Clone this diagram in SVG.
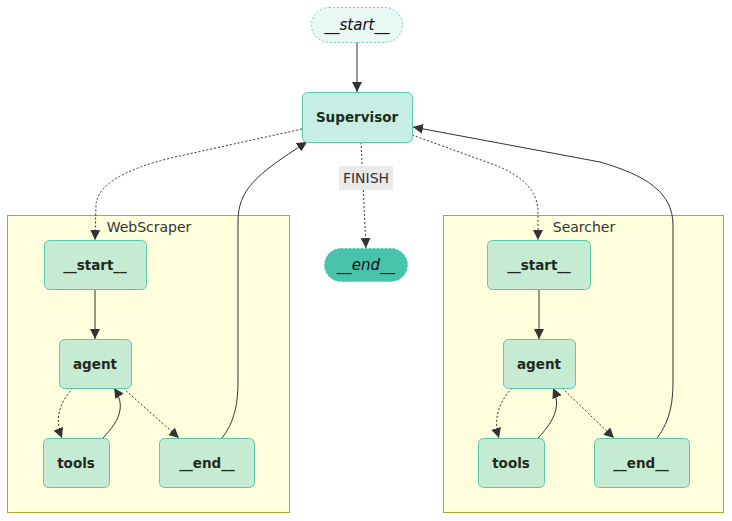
<svg xmlns="http://www.w3.org/2000/svg" width="732" height="521" viewBox="0 0 732 521">
<defs>
<style>
.cluster{fill:#ffffde;stroke:#aaaa33;stroke-width:1}
.clabel{font-family:"DejaVu Sans",Verdana,sans-serif;font-size:14px;fill:#333;text-anchor:middle;dominant-baseline:central}
.node{fill:#c5ebd2;stroke:#5cc9ad;stroke-width:1}
.sup{fill:#c6eee4;stroke:#5cc9ad;stroke-width:1}
.first{fill:#eaf8f5;stroke:#6fd3bc;stroke-width:1;stroke-dasharray:2 2}
.last{fill:#47c4ab;stroke:#5cc9ad;stroke-width:1;stroke-dasharray:2 2}
.lbl{font-family:"DejaVu Sans",Verdana,sans-serif;font-size:13.5px;font-weight:bold;fill:#1f2a1f;text-anchor:middle;dominant-baseline:central}
.ital{font-family:"DejaVu Sans",Verdana,sans-serif;font-size:15px;font-style:italic;fill:#111;text-anchor:middle;dominant-baseline:central}
.edge{fill:none;stroke:#333;stroke-width:1}
.dash{stroke-dasharray:2 2}
.elbl{font-family:"DejaVu Sans",Verdana,sans-serif;font-size:14px;fill:#333;text-anchor:middle;dominant-baseline:central}
</style>
<marker id="arr" viewBox="0 0 10 10" refX="10" refY="5" markerWidth="10" markerHeight="10" markerUnits="userSpaceOnUse" orient="auto">
<path d="M0,0 L10,5 L0,10 z" fill="#333"/>
</marker>
</defs>
<rect width="732" height="521" fill="#ffffff"/>
<g id="cluster-WebScraper">
<rect class="cluster" x="7.5" y="215.5" width="282" height="297"/>
<text class="clabel" x="149" y="227">WebScraper</text>
</g>
<g id="cluster-Searcher">
<rect class="cluster" x="443.5" y="215.5" width="280" height="297"/>
<text class="clabel" x="584" y="227">Searcher</text>
</g>
<g id="connectors">
<path class="edge" d="M357,42 L357,92" marker-end="url(#arr)"/>
<path class="edge dash" d="M361,142 L366,248" marker-end="url(#arr)"/>
<path class="edge dash" d="M302,129 L175,157 Q98,175 96,205 L95,240" marker-end="url(#arr)"/>
<path class="edge" d="M222,438 C236,420 238,400 238,380 L238,222 C238,190 255,175 307,142" marker-end="url(#arr)"/>
<path class="edge dash" d="M412,135 L495,165 Q538,182 538,212 L538,240" marker-end="url(#arr)"/>
<path class="edge" d="M657,438 C671,420 673,400 673,380 L673,225 C673,192 645,175 600,162 L413,127" marker-end="url(#arr)"/>
<path class="edge" d="M95,289 L95,339" marker-end="url(#arr)"/>
<path class="edge dash" d="M73,388 C60,402 54,418 62,438" marker-end="url(#arr)"/>
<path class="edge" d="M103,438 C120,420 126,406 114,388" marker-end="url(#arr)"/>
<path class="edge dash" d="M123,388 L179,438" marker-end="url(#arr)"/>
<path class="edge" d="M539,289 L539,339" marker-end="url(#arr)"/>
<path class="edge dash" d="M512,388 C499,402 493,418 499,438" marker-end="url(#arr)"/>
<path class="edge" d="M538,438 C555,420 561,406 553,388" marker-end="url(#arr)"/>
<path class="edge dash" d="M562,388 L614,438" marker-end="url(#arr)"/>
<g id="edge-label-finish">
<rect x="339" y="166" width="54" height="24" fill="#e8e8e8" opacity="0.9"/>
<text class="elbl" x="366" y="178">FINISH</text>
</g>
</g>
<g id="node-start">
<rect class="first" x="311.5" y="7.5" width="91" height="35" rx="17.5"/>
<text class="ital" x="357" y="25">__start__</text>
</g>
<g id="node-Supervisor">
<rect class="sup" x="302.5" y="92.5" width="110" height="50" rx="5"/>
<text class="lbl" x="357" y="117">Supervisor</text>
</g>
<g id="node-end">
<rect class="last" x="324.5" y="248.5" width="83" height="33" rx="16.5"/>
<text class="ital" x="366" y="265">__end__</text>
</g>
<g id="node-WebScraper-start">
<rect class="node" x="44.5" y="240.5" width="102" height="49" rx="5"/>
<text class="lbl" x="95" y="265">__start__</text>
</g>
<g id="node-WebScraper-agent">
<rect class="node" x="59.5" y="339.5" width="72" height="49" rx="5"/>
<text class="lbl" x="95" y="364">agent</text>
</g>
<g id="node-WebScraper-tools">
<rect class="node" x="43.5" y="438.5" width="66" height="49" rx="5"/>
<text class="lbl" x="76" y="463">tools</text>
</g>
<g id="node-WebScraper-end">
<rect class="node" x="159.5" y="438.5" width="95" height="49" rx="5"/>
<text class="lbl" x="207" y="463">__end__</text>
</g>
<g id="node-Searcher-start">
<rect class="node" x="487.5" y="240.5" width="103" height="49" rx="5"/>
<text class="lbl" x="539" y="265">__start__</text>
</g>
<g id="node-Searcher-agent">
<rect class="node" x="503.5" y="339.5" width="72" height="49" rx="5"/>
<text class="lbl" x="539" y="364">agent</text>
</g>
<g id="node-Searcher-tools">
<rect class="node" x="478.5" y="438.5" width="66" height="49" rx="5"/>
<text class="lbl" x="511" y="463">tools</text>
</g>
<g id="node-Searcher-end">
<rect class="node" x="594.5" y="438.5" width="95" height="49" rx="5"/>
<text class="lbl" x="641" y="463">__end__</text>
</g>
</svg>
